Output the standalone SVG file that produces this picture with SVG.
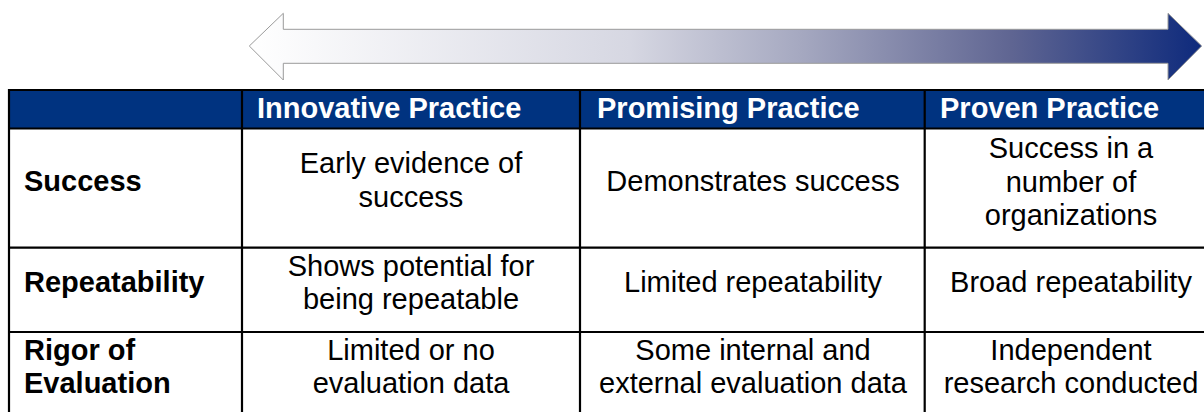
<svg xmlns="http://www.w3.org/2000/svg" width="1204" height="412" viewBox="0 0 1204 412">
  <defs>
    <linearGradient id="arrowGrad" x1="249" y1="0" x2="1202" y2="0" gradientUnits="userSpaceOnUse">
      <stop offset="0" stop-color="#ffffff"/>
      <stop offset="0.4" stop-color="#d6d7e2"/>
      <stop offset="0.58" stop-color="#a5a8c0"/>
      <stop offset="0.8" stop-color="#5f6592"/>
      <stop offset="1" stop-color="#0e2a7c"/>
    </linearGradient>
  </defs>
  <style>
    .grid { stroke: #000; stroke-width: 2.2; fill: none; }
    .hdr { font-family: "Liberation Sans", Arial, sans-serif; font-weight: bold; font-size: 29px; fill: #ffffff; }
    .lbl { font-family: "Liberation Sans", Arial, sans-serif; font-weight: bold; font-size: 29px; fill: #000; }
    .txt { font-family: "Liberation Sans", Arial, sans-serif; font-size: 29px; fill: #000; text-anchor: middle; }
  </style>
  <rect x="0" y="0" width="1204" height="412" fill="#ffffff"/>

  <g id="arrow">
    <path d="M249.3,46 L283.3,13.3 L283.3,29.3 L1168,29.3 L1168,13.3 L1201.7,46 L1168,80 L1168,63.3 L283.3,63.3 L283.3,80 Z" fill="url(#arrowGrad)" stroke="#9a9a9a" stroke-width="1"/>
  </g>

  <g id="header">
    <rect x="9" y="90" width="1200" height="38.5" fill="#003380"/>
    <text class="hdr" x="257" y="118">Innovative Practice</text>
    <text class="hdr" x="597" y="118">Promising Practice</text>
    <text class="hdr" x="940" y="118">Proven Practice</text>
  </g>

  <g id="row-success">
    <text class="lbl" x="24" y="191">Success</text>
    <text class="txt" x="411" y="173">Early evidence of</text>
    <text class="txt" x="411" y="207">success</text>
    <text class="txt" x="753" y="191">Demonstrates success</text>
    <text class="txt" x="1071" y="158">Success in a</text>
    <text class="txt" x="1071" y="192">number of</text>
    <text class="txt" x="1071" y="225">organizations</text>
  </g>

  <g id="row-repeatability">
    <text class="lbl" x="24" y="292">Repeatability</text>
    <text class="txt" x="411" y="276">Shows potential for</text>
    <text class="txt" x="411" y="309">being repeatable</text>
    <text class="txt" x="753" y="292">Limited repeatability</text>
    <text class="txt" x="1071" y="292">Broad repeatability</text>
  </g>

  <g id="row-rigor">
    <text class="lbl" x="24" y="360">Rigor of</text>
    <text class="lbl" x="24" y="393">Evaluation</text>
    <text class="txt" x="411" y="360">Limited or no</text>
    <text class="txt" x="411" y="393">evaluation data</text>
    <text class="txt" x="753" y="360">Some internal and</text>
    <text class="txt" x="753" y="393">external evaluation data</text>
    <text class="txt" x="1071" y="360">Independent</text>
    <text class="txt" x="1071" y="393">research conducted</text>
  </g>

  <g id="connectors">
    <path class="grid" d="M9,90 H1210 M9,128.5 H1210 M9,247.7 H1210 M9,332 H1210"/>
    <path class="grid" d="M9,89 V420 M242,89 V420 M580,89 V420 M924.7,89 V420"/>
  </g>
</svg>
